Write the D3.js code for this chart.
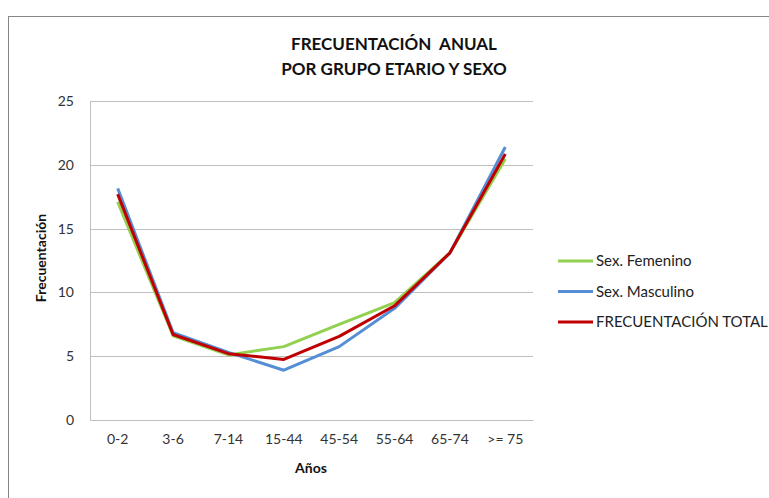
<!DOCTYPE html>
<html><head><meta charset="utf-8">
<script src="https://cdn.jsdelivr.net/npm/d3@7"></script>
<style>body{margin:0;background:#fff;font-family:Lato,"Open Sans",sans-serif;}</style>
</head><body>
<svg id="c" width="769" height="498"></svg>
<script>
const categories = ["0-2","3-6","7-14","15-44","45-54","55-64","65-74",">= 75"];
const femenino  = [17.1, 6.6, 5.1, 5.75, 7.5, 9.2, 13.1, 20.45];
const masculino = [18.15, 6.85, 5.3, 3.9, 5.75, 8.75, 13.1, 21.4];
const total     = [17.7, 6.7, 5.2, 4.75, 6.55, 8.95, 13.1, 20.85];
const yTicks = [0,5,10,15,20,25];
const seriesNames = ["Sex. Femenino","Sex. Masculino","FRECUENTACIÓN TOTAL"];
const seriesColors = ["#92D050","#558ED5","#C00000"];
const series = [femenino, masculino, total];

const svg = d3.select("#c");
svg.append("rect").attr("x",8.5).attr("y",16.5).attr("width",800).attr("height",520)
  .attr("fill","#fff").attr("stroke","#868686").attr("stroke-width",1);

const m = {l:90, r:533, t:101, b:420};
const x = d3.scaleBand().domain(categories).range([m.l, m.r]);
const y = d3.scaleLinear().domain([0,25]).range([m.b, m.t]);

// gridlines
svg.append("g").selectAll("line").data(yTicks.filter(d=>d>0)).join("line")
  .attr("x1",m.l).attr("x2",m.r).attr("y1",d=>Math.round(y(d))+0.5).attr("y2",d=>Math.round(y(d))+0.5)
  .attr("stroke","#BFBFBF").attr("stroke-width",1);

// axes
const yAxis = svg.append("g").attr("transform",`translate(${m.l},0)`)
  .call(d3.axisLeft(y).tickValues(yTicks).tickSize(0).tickPadding(16));
yAxis.select(".domain").attr("stroke","#BFBFBF");
yAxis.selectAll("text").attr("font-family","Lato, sans-serif").attr("font-size",14).attr("fill","#333");

const xAxis = svg.append("g").attr("transform",`translate(0,${m.b})`)
  .call(d3.axisBottom(x).tickSize(0).tickPadding(14));
xAxis.select(".domain").attr("stroke","#BFBFBF");
xAxis.selectAll("text").attr("font-family","Lato, sans-serif").attr("font-size",14).attr("fill","#333");

// lines
const line = d3.line().x((d,i)=>x(categories[i])+x.bandwidth()/2).y(d=>y(d));
series.forEach((s,i)=>{
  svg.append("path").datum(s).attr("d",line).attr("fill","none")
    .attr("stroke",seriesColors[i]).attr("stroke-width",3).attr("stroke-linejoin","round");
});

// title
const title = svg.append("text").attr("x",394).attr("text-anchor","middle")
  .attr("font-family","Lato, sans-serif").attr("font-weight","bold").attr("font-size",17).attr("fill","#111");
title.append("tspan").attr("x",394).attr("y",50).attr("xml:space","preserve").text("FRECUENTACIÓN  ANUAL");
title.append("tspan").attr("x",394).attr("y",75).text("POR GRUPO ETARIO Y SEXO");

// axis titles
svg.append("text").attr("transform","translate(46,258) rotate(-90)").attr("text-anchor","middle")
  .attr("font-family","Lato, sans-serif").attr("font-weight","bold").attr("font-size",14).attr("fill","#111")
  .text("Frecuentación");
svg.append("text").attr("x",311).attr("y",473).attr("text-anchor","middle")
  .attr("font-family","Lato, sans-serif").attr("font-weight","bold").attr("font-size",14).attr("fill","#111")
  .text("Años");

// legend
const lg = svg.append("g");
seriesNames.forEach((n,i)=>{
  const yy = 261 + i*30.5;
  lg.append("line").attr("x1",558).attr("x2",593).attr("y1",yy).attr("y2",yy)
    .attr("stroke",seriesColors[i]).attr("stroke-width",3);
  lg.append("text").attr("x",596).attr("y",yy+5).attr("font-family","Lato, sans-serif")
    .attr("font-size",15).attr("fill","#222").text(n);
});
</script>
</body></html>
